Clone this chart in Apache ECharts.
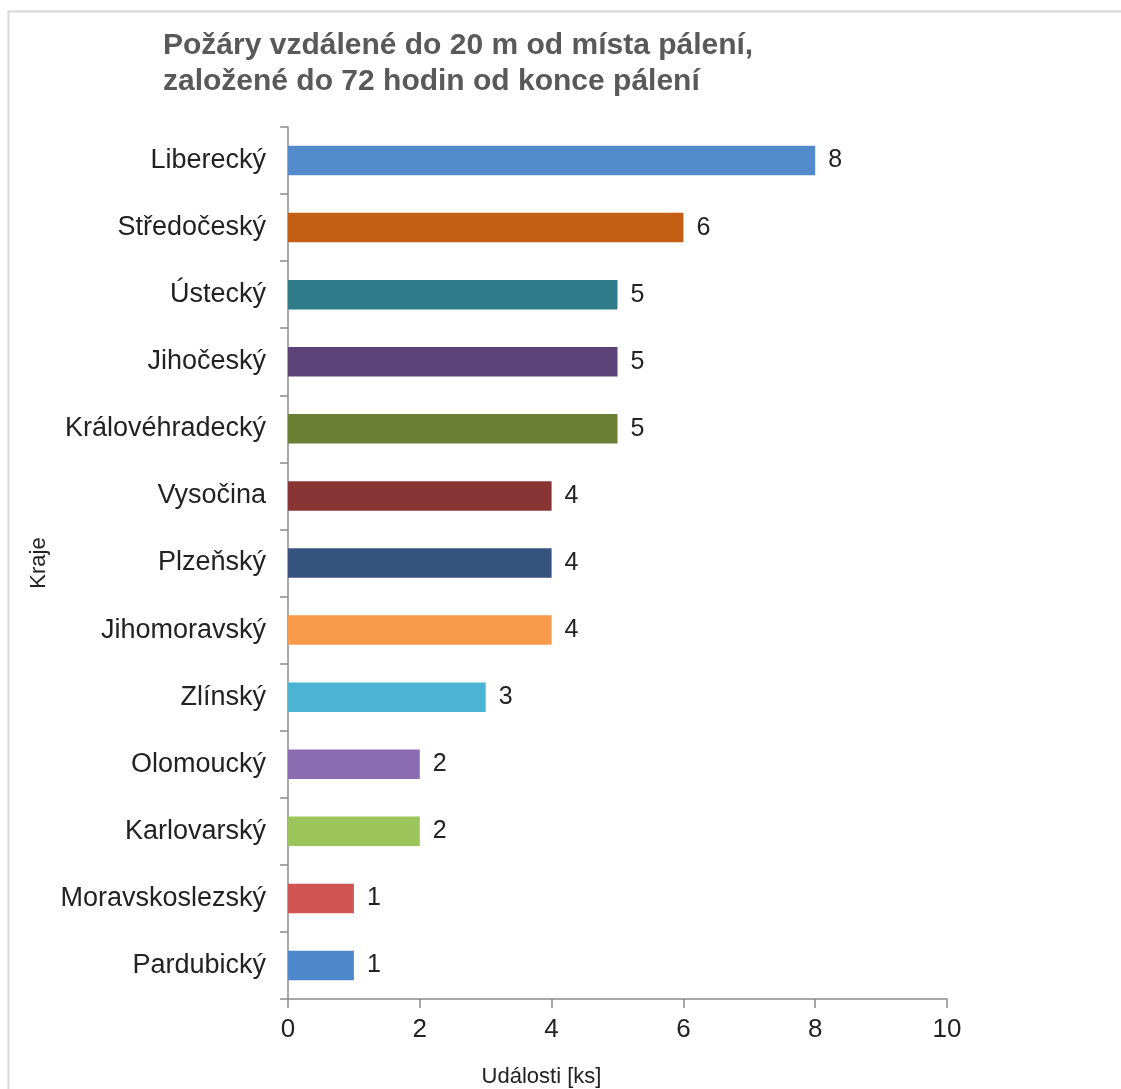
<!DOCTYPE html>
<html>
<head>
<meta charset="utf-8">
<script src="https://cdn.jsdelivr.net/npm/echarts@6/dist/echarts.min.js"></script>
<style>
  html, body { margin: 0; padding: 0; background: #fff; }
  #chart { width: 1121px; height: 1089px; }
</style>
</head>
<body>
<div id="chart"></div>
<script>
const regions = [
  'Liberecký', 'Středočeský', 'Ústecký', 'Jihočeský', 'Královéhradecký',
  'Vysočina', 'Plzeňský', 'Jihomoravský', 'Zlínský', 'Olomoucký',
  'Karlovarský', 'Moravskoslezský', 'Pardubický'
]
const events = [8, 6, 5, 5, 5, 4, 4, 4, 3, 2, 2, 1, 1]
const barColors = [
  '#538ACB', '#C35F12', '#2F7B8A', '#5B4377', '#6B7F34',
  '#893535', '#36527E', '#F79B4B', '#4BB4D2', '#8B6BB1',
  '#9BC45A', '#D05452', '#4F87CD'
]
const xTicks = [0, 2, 4, 6, 8, 10]

const font = 'Liberation Sans, Arial, sans-serif'
const chart = echarts.init(document.getElementById('chart'))

chart.setOption({
  animation: false,
  title: {
    text: 'Požáry vzdálené do 20 m od místa pálení,\nzaložené do 72 hodin od konce pálení',
    left: 158,
    top: 23,
    textStyle: {
      color: '#595959',
      fontFamily: font,
      fontWeight: 'bold',
      fontSize: 30,
      lineHeight: 36
    }
  },
  graphic: [{
    type: 'polyline',
    shape: { points: [[8.5, 1089], [8.5, 11.5], [1121, 11.5]] },
    style: { stroke: '#d8d8d8', lineWidth: 2, fill: null }
  }],
  grid: { left: 288, right: 174, top: 127, bottom: 90, outerBoundsMode: 'none', containLabel: false },
  xAxis: {
    type: 'value',
    min: xTicks[0],
    max: xTicks[xTicks.length - 1],
    interval: 2,
    name: 'Události [ks]',
    nameLocation: 'middle',
    nameGap: 67,
    nameTextStyle: { color: '#222', fontFamily: font, fontSize: 22, padding: [0, 152, 0, 0] },
    axisLine: { show: true, lineStyle: { color: '#8c8c8c', width: 1.5 } },
    axisTick: { show: true, length: 9, lineStyle: { color: '#8c8c8c', width: 1.5 } },
    axisLabel: { color: '#222', fontFamily: font, fontSize: 26, margin: 18 },
    splitLine: { show: false }
  },
  yAxis: {
    type: 'category',
    inverse: true,
    data: regions,
    name: 'Kraje',
    nameLocation: 'middle',
    nameGap: 236,
    nameRotate: 90,
    nameTextStyle: { color: '#222', fontFamily: font, fontSize: 22 },
    axisLine: { show: true, lineStyle: { color: '#8c8c8c', width: 1.5 } },
    axisTick: { show: true, length: 8, alignWithLabel: false, lineStyle: { color: '#8c8c8c', width: 1.5 } },
    axisLabel: { color: '#222', fontFamily: font, fontSize: 27, margin: 22 }
  },
  series: [{
    type: 'bar',
    data: events.map((v, i) => ({ value: v, itemStyle: { color: barColors[i] } })),
    barCategoryGap: '56%',
    label: {
      show: true,
      position: 'right',
      distance: 13,
      color: '#222',
      fontFamily: font,
      fontSize: 25
    }
  }]
})
</script>
</body>
</html>
